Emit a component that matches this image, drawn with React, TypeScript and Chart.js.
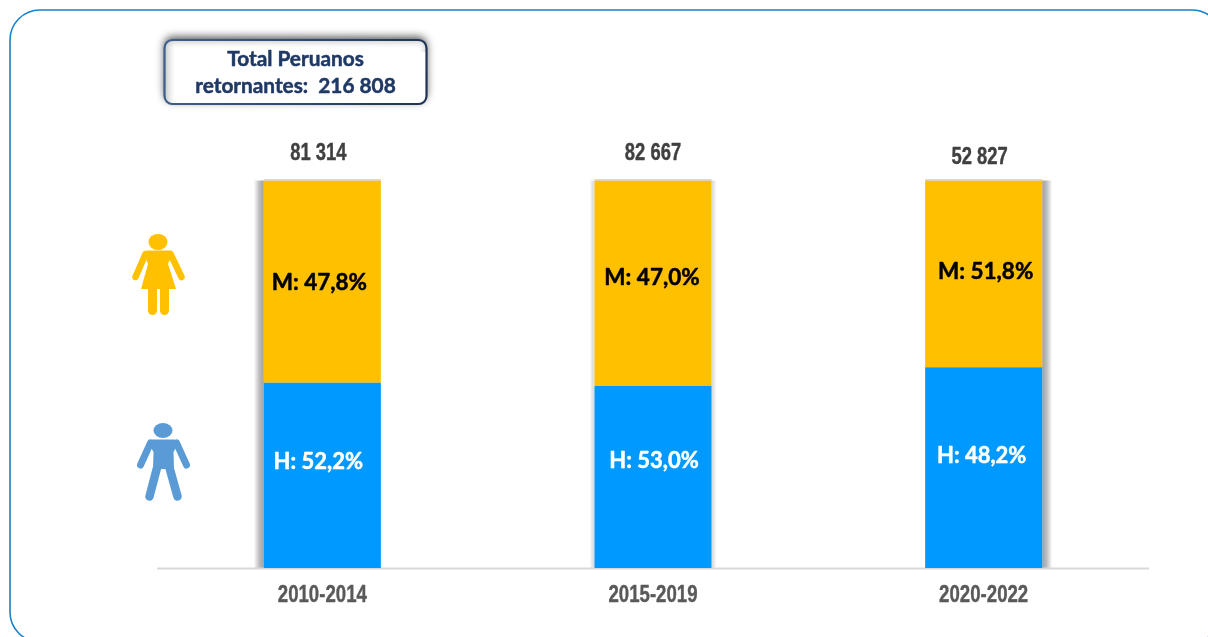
import React, { useEffect, useRef } from "react";
import { Chart, registerables } from "chart.js";

Chart.register(...registerables);

const categories = ["2010-2014", "2015-2019", "2020-2022"];
const lowerSegment = [47.8, 47.0, 51.8];
const upperSegment = [52.2, 53.0, 48.2];
const lowerLabels = ["H: 52,2%", "H: 53,0%", "H: 48,2%"];
const upperLabels = ["M: 47,8%", "M: 47,0%", "M: 51,8%"];
const totalLabels = ["81 314", "82 667", "52 827"];
const calloutLines = ["Total Peruanos", "retornantes:  216 808"];

const NARROW = '"Liberation Sans", sans-serif';
const BODY = 'Lato, "Open Sans", sans-serif';

function rr(c: CanvasRenderingContext2D, x: number, y: number, w: number, h: number, r: number) {
  c.beginPath();
  c.roundRect(x, y, w, h, r);
}

function capsule(c: CanvasRenderingContext2D, x1: number, y1: number, x2: number, y2: number, w: number) {
  c.lineWidth = w;
  c.lineCap = "round";
  c.beginPath();
  c.moveTo(x1, y1);
  c.lineTo(x2, y2);
  c.stroke();
}

function narrowText(c: CanvasRenderingContext2D, s: string, x: number, y: number, size: number, sx: number, color: string) {
  c.save();
  c.translate(x, y);
  c.scale(sx, 1);
  c.font = `bold ${size}px ${NARROW}`;
  c.fillStyle = color;
  c.textAlign = "center";
  c.textBaseline = "middle";
  c.strokeStyle = color;
  c.lineWidth = 0.4;
  c.strokeText(s, 0, 0);
  c.fillText(s, 0, 0);
  c.restore();
}

function boldText(c: CanvasRenderingContext2D, s: string, x: number, y: number, size: number, color: string) {
  c.font = `bold ${size}px ${BODY}`;
  c.textAlign = "center";
  c.textBaseline = "middle";
  c.fillStyle = color;
  c.strokeStyle = color;
  c.lineWidth = 0.5;
  c.lineJoin = "round";
  c.strokeText(s, x, y);
  c.fillText(s, x, y);
}

function drawWoman(c: CanvasRenderingContext2D) {
  const col = "#FFC000";
  c.fillStyle = col;
  c.strokeStyle = col;
  c.beginPath();
  c.ellipse(158, 242, 9.5, 8, 0, 0, Math.PI * 2);
  c.fill();
  c.beginPath();
  c.moveTo(147, 250.5);
  c.lineTo(169, 250.5);
  c.quadraticCurveTo(172, 251, 172, 254);
  c.lineTo(168, 264);
  c.lineTo(176, 289);
  c.lineTo(141, 289);
  c.lineTo(148, 264);
  c.lineTo(144, 254);
  c.quadraticCurveTo(144, 251, 147, 250.5);
  c.fill();
  capsule(c, 145.5, 254, 135.5, 277, 6.5);
  capsule(c, 170.5, 254, 181.5, 277, 6.5);
  capsule(c, 152.5, 288, 152.5, 310.5, 9);
  capsule(c, 164.5, 288, 164.5, 310.5, 9);
}

function drawMan(c: CanvasRenderingContext2D) {
  const col = "#5B9BD5";
  c.fillStyle = col;
  c.strokeStyle = col;
  c.beginPath();
  c.ellipse(163, 430.5, 9.5, 7.5, 0, 0, Math.PI * 2);
  c.fill();
  c.beginPath();
  c.moveTo(152, 439.5);
  c.lineTo(174, 439.5);
  c.quadraticCurveTo(178, 440, 178, 444);
  c.lineTo(173.5, 452);
  c.lineTo(174, 469);
  c.lineTo(153, 469);
  c.lineTo(153.5, 452);
  c.lineTo(149, 444);
  c.quadraticCurveTo(149, 440, 152, 439.5);
  c.fill();
  capsule(c, 150.5, 443, 140.5, 465, 7);
  capsule(c, 176.5, 443, 186.5, 465, 7);
  capsule(c, 157.5, 466, 149.5, 496.5, 8.5);
  capsule(c, 169, 466, 177.5, 496.5, 8.5);
}

function sideShadow(c: CanvasRenderingContext2D, x0: number, x1: number, top: number, bottom: number, a: number) {
  const g = c.createLinearGradient(x0, 0, x1, 0);
  g.addColorStop(0, `rgba(120,120,120,${a})`);
  g.addColorStop(0.45, `rgba(120,120,120,${a * 0.7})`);
  g.addColorStop(1, "rgba(120,120,120,0)");
  c.fillStyle = g;
  c.fillRect(Math.min(x0, x1), top, Math.abs(x1 - x0), bottom - top);
}

function drawCallout(c: CanvasRenderingContext2D) {
  const x = 164.5, y = 40, w = 262, h = 64;
  c.save();
  c.shadowColor = "rgba(0,0,0,0.7)";
  c.shadowBlur = 9;
  c.shadowOffsetY = -3;
  c.fillStyle = "#fff";
  rr(c, x, y, w, h, 8);
  c.fill();
  c.restore();

  c.save();
  rr(c, x, y, w, h, 8);
  c.clip();
  const left = c.createLinearGradient(x, 0, x + 11, 0);
  left.addColorStop(0, "rgba(170,170,170,0.7)");
  left.addColorStop(1, "rgba(220,220,220,0)");
  c.fillStyle = left;
  c.fillRect(x, y, 11, h);
  const topG = c.createLinearGradient(0, y, 0, y + 8);
  topG.addColorStop(0, "rgba(180,180,180,0.6)");
  topG.addColorStop(1, "rgba(225,225,225,0)");
  c.fillStyle = topG;
  c.fillRect(x, y, w, 8);
  const right = c.createLinearGradient(x + w - 8, 0, x + w, 0);
  right.addColorStop(0, "rgba(225,225,225,0)");
  right.addColorStop(1, "rgba(190,190,190,0.6)");
  c.fillStyle = right;
  c.fillRect(x + w - 8, y, 8, 12);
  c.restore();

  const stroke = c.createLinearGradient(x, y, x + w, y + h);
  stroke.addColorStop(0, "#3E608F");
  stroke.addColorStop(1, "#1F3455");
  c.strokeStyle = stroke;
  c.lineWidth = 2.2;
  rr(c, x, y, w, h, 8);
  c.stroke();

  boldText(c, calloutLines[0], 295.5, 59.5, 20.8, "#1F3864");
  boldText(c, calloutLines[1], 295.5, 86.5, 20.8, "#1F3864");
}

const decorations = {
  id: "decorations",
  beforeDraw(chart: any) {
    const c: CanvasRenderingContext2D = chart.ctx;
    c.save();
    c.fillStyle = "#fff";
    c.fillRect(0, 0, chart.width, chart.height);
    c.strokeStyle = "#1B80C6";
    c.lineWidth = 1.6;
    rr(c, 10, 10, 1212, 632, 30);
    c.stroke();
    drawCallout(c);
    drawWoman(c);
    drawMan(c);
    c.restore();
  },
  beforeDatasetsDraw(chart: any) {
    const c: CanvasRenderingContext2D = chart.ctx;
    const { top, bottom, left, right } = chart.chartArea;
    const bars = chart.getDatasetMeta(0).data;
    c.save();
    bars.forEach((b: any, i: number) => {
      const l = b.x - b.width / 2;
      const r = b.x + b.width / 2;
      if (i === 0) sideShadow(c, l, l - 10, top, bottom, 0.7);
      if (i === 1) {
        sideShadow(c, l, l - 5, top, bottom, 0.28);
        sideShadow(c, r, r + 5, top, bottom, 0.28);
      }
      if (i === 2) sideShadow(c, r, r + 10, top, bottom, 0.7);
      c.fillStyle = "rgba(150,150,150,0.7)";
      c.fillRect(l, top - 1, b.width, 1);
    });
    c.fillStyle = "#D9D9D9";
    c.fillRect(left, bottom - 0.5, right - left, 2);
    c.restore();
  },
  afterDatasetsDraw(chart: any) {
    const c: CanvasRenderingContext2D = chart.ctx;
    const lower = chart.getDatasetMeta(0).data;
    const upper = chart.getDatasetMeta(1).data;
    const lowerDx = [-4, 1, -2];
    const lowerDy = [-13, -16, -12];
    const upperDx = [-3, -1, 2];
    const upperDy = [1, -5, -2];
    const totalDx = [-4, 0, -4];
    const totalY = [153.5, 153.5, 157.5];
    const xScale = chart.scales.x;
    c.save();
    lower.forEach((b: any, i: number) => {
      boldText(c, lowerLabels[i], b.x + lowerDx[i], (b.y + b.base) / 2 + lowerDy[i], 22, "#fff");
      const u = upper[i];
      boldText(c, upperLabels[i], u.x + upperDx[i], (u.y + u.base) / 2 + upperDy[i], 22.5, "#000");
      narrowText(c, totalLabels[i], b.x + totalDx[i], totalY[i], 23, 0.8, "#404040");
      narrowText(c, categories[i], xScale.getPixelForTick(i), 596, 23, 0.81, "#595959");
    });
    c.restore();
  },
};

export default function App() {
  const ref = useRef<HTMLCanvasElement>(null);
  useEffect(() => {
    const chart = new Chart(ref.current!, {
      type: "bar",
      data: {
        labels: categories,
        datasets: [
          { label: "H", data: lowerSegment, backgroundColor: "#0099FF", barPercentage: 1, categoryPercentage: 0.354 },
          { label: "M", data: upperSegment, backgroundColor: "#FFC000", barPercentage: 1, categoryPercentage: 0.354 },
        ],
      },
      options: {
        animation: false,
        responsive: false,
        maintainAspectRatio: false,
        layout: { padding: { left: 157, right: 59, top: 180.5, bottom: 0 } },
        plugins: { legend: { display: false }, tooltip: { enabled: false }, title: { display: false } },
        scales: {
          x: {
            stacked: true,
            afterFit(scale: any) { scale.height = 69; },
            grid: { display: false, drawTicks: false },
            border: { display: false },
            ticks: { display: false },
          },
          y: { stacked: true, display: false, min: 0, max: 100 },
        },
      },
      plugins: [decorations],
    } as any);
    return () => chart.destroy();
  }, []);
  return (
    <canvas
      ref={ref}
      width={1208}
      height={637}
      style={{ position: "fixed", left: 0, top: 0, width: 1208, height: 637, display: "block" }}
    />
  );
}
